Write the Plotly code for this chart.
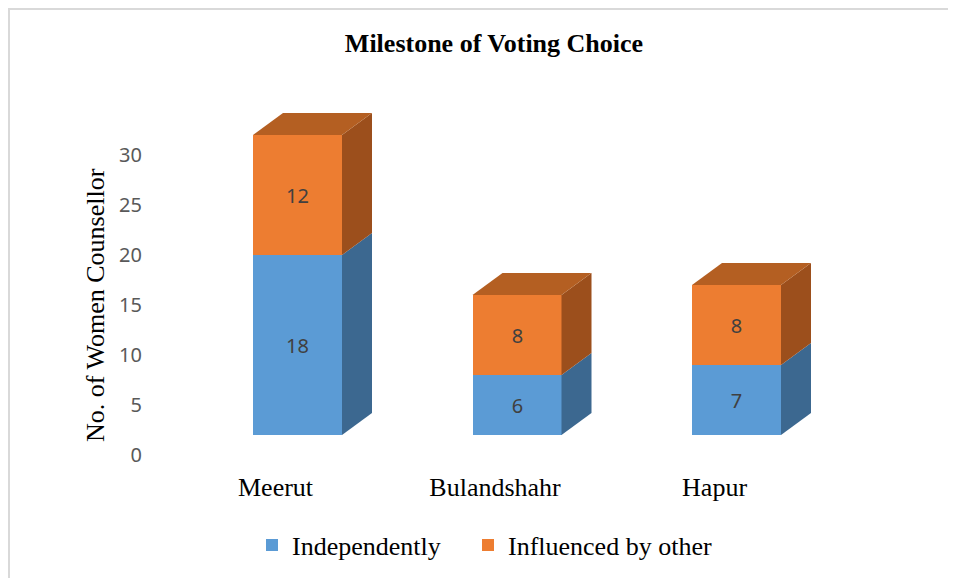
import plotly.graph_objects as go

categories = ["Meerut", "Bulandshahr", "Hapur"]
independently = [18, 6, 7]
influenced = [12, 8, 8]
y_ticks = [0, 5, 10, 15, 20, 25, 30]

W, H = 956, 578
OFF = 8  # page body margin of the browser
# plot area in screen pixels
L, R, T, B = 160, 840, 90, 475
PW, PH = R - L, B - T
xs = list(range(len(categories)))
unit_x = 219.5
bar_w = 89 / unit_x
dx = 30 / unit_x
dy = 2.2
floor = 2  # 3D floor offset of the value axis labels

blue, blue_side = "#5B9BD5", "#3C6890"
orange, orange_side, orange_top = "#ED7D31", "#9C4F1C", "#B45F22"
lbl_font = dict(family="Noto Sans", size=20, color="#404040")
serif = "Liberation Serif"

fig = go.Figure()

fig.add_trace(go.Bar(x=xs, y=independently, width=bar_w, name="Independently",
                     marker=dict(color=blue, line=dict(width=0)), legend="legend",
                     text=[str(v) for v in independently], textposition="inside",
                     insidetextanchor="middle", textfont=lbl_font))
fig.add_trace(go.Bar(x=xs, y=influenced, width=bar_w, name="Influenced by other",
                     marker=dict(color=orange, line=dict(width=0)), legend="legend2",
                     text=[str(v) for v in influenced], textposition="inside",
                     insidetextanchor="middle", textfont=lbl_font))

def poly(px, py, color):
    fig.add_trace(go.Scatter(x=px + [px[0]], y=py + [py[0]], mode="lines", fill="toself",
                             fillcolor=color, line=dict(width=0, color=color),
                             hoverinfo="skip", showlegend=False))

for i, x in enumerate(xs):
    segs = [(0, independently[i], blue_side),
            (independently[i], independently[i] + influenced[i], orange_side)]
    xr = x + bar_w / 2
    xl = x - bar_w / 2
    for b, t, c in segs:
        poly([xr, xr + dx, xr + dx, xr], [b, b + dy, t + dy, t], c)
    top = independently[i] + influenced[i]
    poly([xl, xl + dx, xr + dx, xr], [top, top + dy, top + dy, top], orange_top)

legend_common = dict(orientation="h", xref="paper", xanchor="left",
                     y=(B - 545) / PH, yanchor="middle",
                     font=dict(family=serif, size=26, color="black"),
                     bgcolor="rgba(0,0,0,0)")

fig.update_layout(
    width=W, height=H,
    margin=dict(l=L - OFF, r=W - (R - OFF), t=T - OFF, b=H - (B - OFF), autoexpand=False),
    paper_bgcolor="white", plot_bgcolor="white",
    barmode="stack", bargap=0,
    title=dict(text="<b>Milestone of Voting Choice</b>", x=(494 - L) / PW, xref="paper",
               y=1 - (43 - OFF) / H, yref="container", xanchor="center", yanchor="middle",
               font=dict(family=serif, size=26, color="black")),
    xaxis=dict(range=[-(297.5 - L) / unit_x, (R - 297.5) / unit_x],
               tickvals=[x - 0.1 for x in xs], ticktext=categories, tickangle=0,
               showgrid=False, zeroline=False, showline=False, ticks="",
               automargin=False, ticklabelstandoff=-6,
               tickfont=dict(family=serif, size=26, color="black")),
    yaxis=dict(range=[-4, 34.5], tickvals=[v - floor for v in y_ticks],
               ticktext=[str(v) for v in y_ticks],
               showgrid=False, zeroline=False, showline=False, ticks="",
               ticklabelstandoff=17, automargin=False,
               tickfont=dict(family="Noto Sans", size=20, color="#595959")),
    legend=dict(x=(252 - L) / PW, **legend_common),
    legend2=dict(x=(468 - L) / PW, **legend_common),
    showlegend=True,
)

fig.add_annotation(text="No. of Women Counsellor", textangle=-90, showarrow=False,
                   xref="paper", yref="paper", x=(95 - L) / PW, y=(B - 305) / PH,
                   xanchor="center", yanchor="middle",
                   font=dict(family=serif, size=26, color="black"))

fig.add_shape(type="rect", xref="paper", yref="paper",
              x0=(OFF + 1 - L) / PW, x1=(990 - L) / PW,
              y0=(B - 600) / PH, y1=(B - OFF - 1) / PH,
              line=dict(color="#D9D9D9", width=2), fillcolor="rgba(0,0,0,0)", layer="below")

fig.write_html("out.html")
